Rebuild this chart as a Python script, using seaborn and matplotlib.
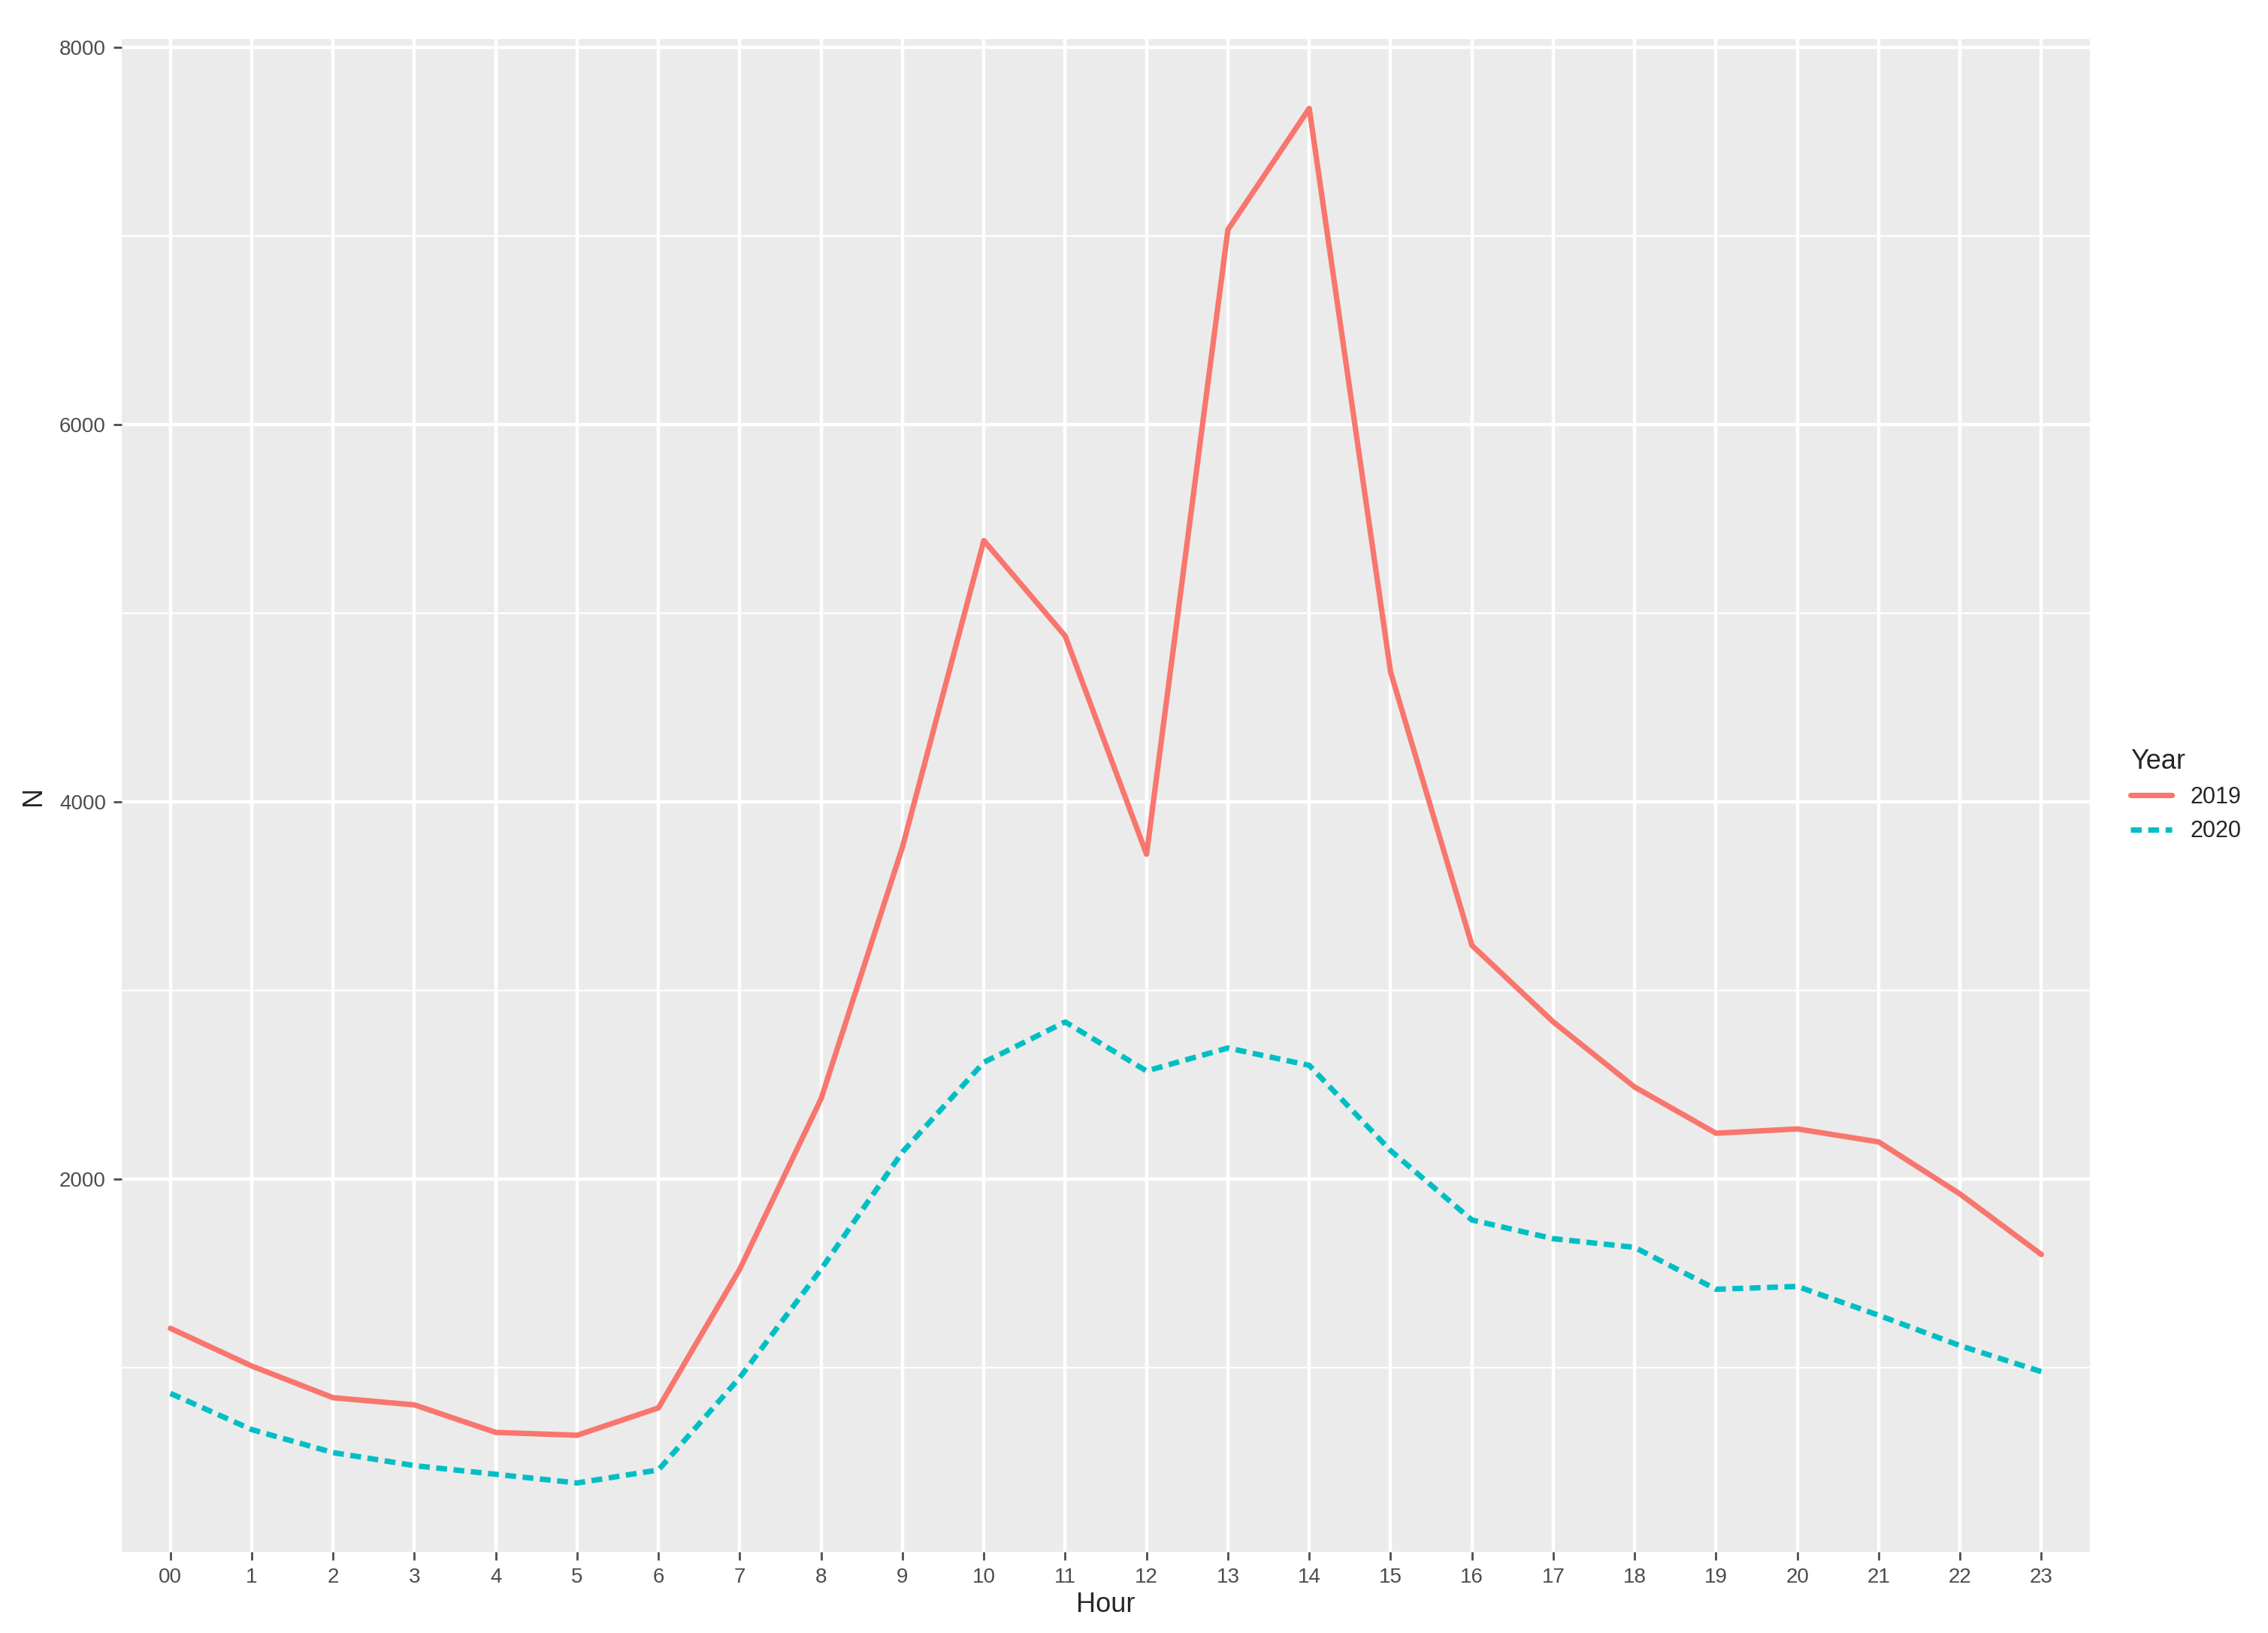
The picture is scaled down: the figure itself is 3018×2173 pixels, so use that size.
import numpy as np
import pandas as pd
import matplotlib
matplotlib.use("Agg")
import matplotlib.pyplot as plt
import seaborn as sns
from matplotlib.ticker import MultipleLocator

hours = ["00"] + [str(h) for h in range(1, 24)]
n_2019 = [1211, 1011, 843, 805, 659, 644, 789, 1525, 2429, 3763, 5387, 4881,
          3724, 7035, 7678, 4690, 3241, 2835, 2490, 2245, 2268, 2199, 1923, 1602]
n_2020 = [866, 674, 552, 483, 437, 391, 460, 950, 1525, 2146, 2621, 2835,
          2575, 2697, 2605, 2153, 1785, 1686, 1640, 1418, 1433, 1280, 1119, 981]

df = pd.DataFrame({
    "Hour": hours * 2,
    "N": n_2019 + n_2020,
    "Year": ["2019"] * 24 + ["2020"] * 24,
})
df["x"] = list(range(24)) * 2

sns.set_style("darkgrid", {"axes.facecolor": "#EBEBEB", "grid.color": "white"})
plt.rcParams["font.family"] = ["Liberation Sans", "DejaVu Sans"]

fig = plt.figure(figsize=(15.09, 10.865), dpi=200)
ax = fig.add_axes([0.0536, 0.0496, 0.868, 0.9264])

sns.lineplot(data=df, x="x", y="N", hue="Year", style="Year",
             palette={"2019": "#F8766D", "2020": "#00BFC4"},
             dashes={"2019": "", "2020": (2, 1.2)}, linewidth=2.6, ax=ax)

ax.set_xlim(-0.6, 23.6)
ax.set_ylim(25, 8045)
ax.set_xticks(range(24))
ax.set_xticklabels(hours)
ax.yaxis.set_major_locator(MultipleLocator(2000))
ax.yaxis.set_minor_locator(MultipleLocator(1000))
ax.grid(which="major", color="white", linewidth=1.6)
ax.grid(which="minor", color="white", linewidth=0.8)
ax.tick_params(axis="both", which="major", labelsize=10, colors="#4D4D4D",
               length=4, width=1, direction="out", left=True, bottom=True)
ax.tick_params(axis="y", which="minor", length=0)
for s in ax.spines.values():
    s.set_visible(False)
ax.set_xlabel("Hour", fontsize=13, labelpad=2)
ax.set_ylabel("N", fontsize=13, labelpad=6)

leg = ax.legend(title="Year", loc="center left", bbox_to_anchor=(1.01, 0.5),
                frameon=False, fontsize=11, title_fontsize=13, handlelength=1.8)
leg._legend_box.align = "left"

fig.savefig("out.png", dpi=200)
